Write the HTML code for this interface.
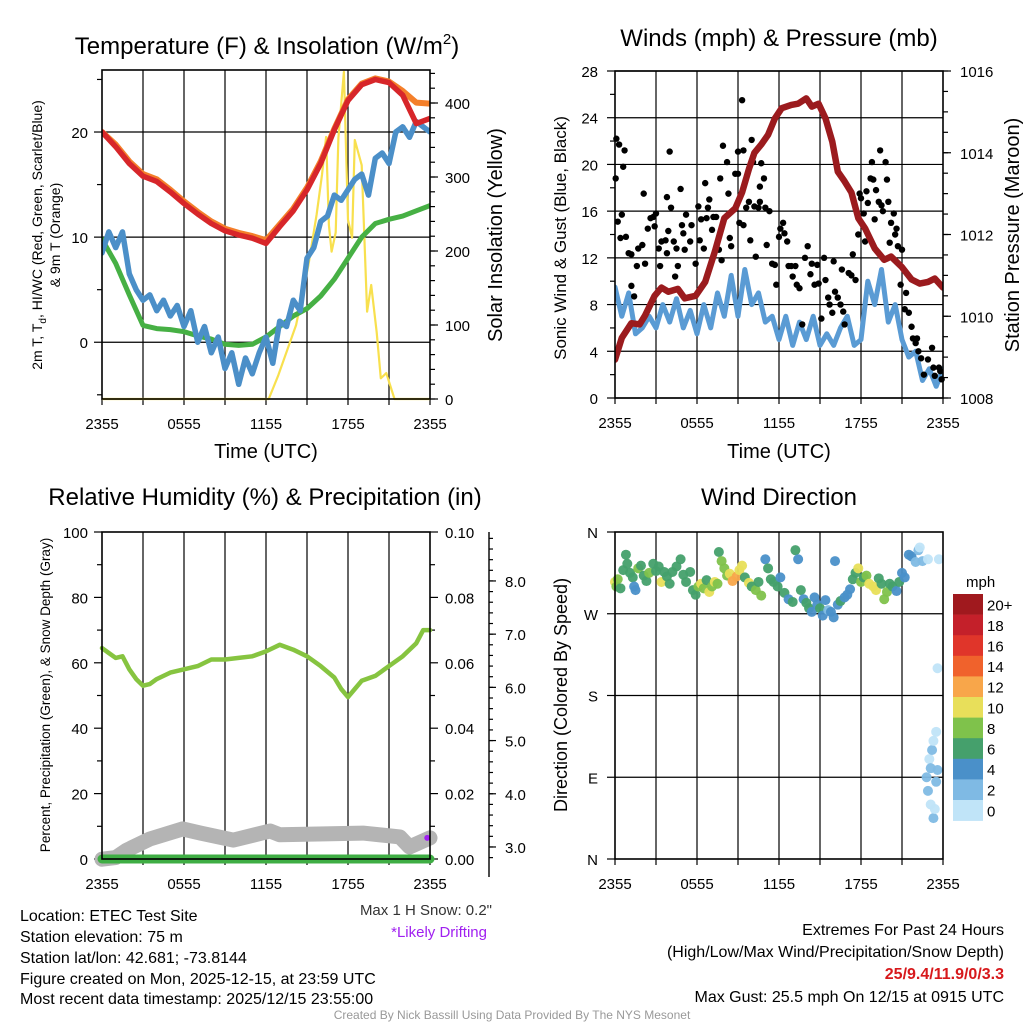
<!DOCTYPE html>
<html><head><meta charset="utf-8"><title>Weather Station Chart</title>
<style>
html,body{margin:0;padding:0;background:#fff;}
svg{display:block;font-family:"Liberation Sans",Arial,sans-serif;}
</style></head>
<body>
<svg id="chart" xmlns="http://www.w3.org/2000/svg" width="1024" height="1024" viewBox="0 0 1024 1024">
<rect x="0" y="0" width="1024" height="1024" fill="#fff"/>
<!-- Titles -->
<text x="267" y="54" font-size="24" text-anchor="middle">Temperature (F) &amp; Insolation (W/m<tspan font-size="15" dy="-10">2</tspan><tspan dy="10">)</tspan></text>
<text x="779" y="46" font-size="24" text-anchor="middle">Winds (mph) &amp; Pressure (mb)</text>
<text x="265" y="505" font-size="24" text-anchor="middle">Relative Humidity (%) &amp; Precipitation (in)</text>
<text x="779" y="505" font-size="24" text-anchor="middle">Wind Direction</text>
<!-- axis titles -->
<text x="266" y="458" font-size="20" text-anchor="middle">Time (UTC)</text>
<text x="779" y="458" font-size="20" text-anchor="middle">Time (UTC)</text>
<text transform="translate(42,235) rotate(-90)" font-size="14" text-anchor="middle">2m T, T<tspan font-size="10" dy="4">d</tspan><tspan dy="-4">, HI/WC (Red, Green, Scarlet/Blue)</tspan></text>
<text transform="translate(60,235) rotate(-90)" font-size="14" text-anchor="middle">&amp; 9m T (Orange)</text>
<text transform="translate(502,235) rotate(-90)" font-size="20" text-anchor="middle">Solar Insolation (Yellow)</text>
<text transform="translate(566,238) rotate(-90)" font-size="17" text-anchor="middle">Sonic Wind &amp; Gust (Blue, Black)</text>
<text transform="translate(1019,235) rotate(-90)" font-size="20" text-anchor="middle">Station Pressure (Maroon)</text>
<text transform="translate(50,695) rotate(-90)" font-size="13.5" text-anchor="middle">Percent, Precipitation (Green), &amp; Snow Depth (Gray)</text>
<text transform="translate(567,695) rotate(-90)" font-size="18" text-anchor="middle">Direction (Colored By Speed)</text>
<!-- notes -->
<text x="492" y="915" font-size="15" fill="#333" text-anchor="end">Max 1 H Snow: 0.2"</text>
<text x="487" y="937" font-size="15" fill="#a020f0" text-anchor="end">*Likely Drifting</text>
<text x="966" y="587" font-size="15">mph</text>
<g font-size="16">
<text x="20" y="921">Location: ETEC Test Site</text>
<text x="20" y="942">Station elevation: 75 m</text>
<text x="20" y="963">Station lat/lon: 42.681; -73.8144</text>
<text x="20" y="984">Figure created on Mon, 2025-12-15, at 23:59 UTC</text>
<text x="20" y="1004">Most recent data timestamp: 2025/12/15 23:55:00</text>
</g>
<g font-size="16" text-anchor="end">
<text x="1004" y="935">Extremes For Past 24 Hours</text>
<text x="1004" y="957">(High/Low/Max Wind/Precipitation/Snow Depth)</text>
<text x="1004" y="979" fill="#d7191c" font-weight="bold">25/9.4/11.9/0/3.3</text>
<text x="1004" y="1002">Max Gust: 25.5 mph On 12/15 at 0915 UTC</text>
</g>
<text x="512" y="1019" font-size="12" fill="#999" text-anchor="middle">Created By Nick Bassill Using Data Provided By The NYS Mesonet</text>
</svg>
<script>
// ---------- data ----------
const timeTickLabels = ["2355","0555","1155","1755","2355"];
const tempHours = [0,1,2,3,4,5,6,7,8,9,10,11,12,13,14,15,16,17,18,19,20,21,22,23,24];
const temp2m = [20,18.6,17,15.8,15.3,14.3,13.2,12.2,11.3,10.6,10.2,9.9,9.4,11,12.5,14.5,17,20.2,23,24.5,25,24.7,23.5,20.8,21.3];
const temp9m = [20,18.8,17.2,16,15.5,14.5,13.4,12.4,11.5,10.8,10.4,10.1,9.7,11.2,12.7,14.7,17.2,20.3,23.1,24.6,25.1,24.8,23.9,22.8,22.7];
const dewpoint = [9.8,7.5,4.5,1.6,1.3,1.2,1.0,0.6,0.3,-0.2,-0.3,-0.2,0.5,1.5,2.5,3.2,4.4,6,8,10,11.3,11.7,12,12.5,13];
const wcHours = [0,0.5,1,1.5,2,2.5,3,3.5,4,4.5,5,5.5,6,6.5,7,7.5,8,8.5,9,9.5,10,10.5,11,11.5,12,12.5,13,13.5,14,14.5,15,15.5,16,16.5,17,17.5,18,18.5,19,19.5,20,20.5,21,21.5,22,22.5,23,23.5,24];
const windChill = [8.5,10.5,9,10.5,6.5,5,4,4.5,3,4,2.5,3.5,1.5,3,0,1.5,-1,0.5,-2.5,-1,-4,-1.5,-3,-1,0.5,-2,2,1.5,4,3,8,9,11.5,12,14,13.5,14.5,15.5,16,14,17.5,18,17,20,20.5,19.5,21,20.5,20];
const insolHours = [0,12.2,12.9,14.2,15.1,15.7,16.1,16.4,16.6,16.8,17.1,17.3,17.7,18,18.3,18.5,19,19.4,19.7,20.1,20.4,20.8,21.4,24];
const insolation = [0,0,32,100,181,249,303,354,235,199,225,353,442,242,218,350,316,118,154,90,28,35,0,0];
const tempTicks = [0,10,20];
const insolTicks = [0,100,200,300,400];

const windHours = wcHours;
const windSpeed = [9.5,7,9,5.5,6,7,6,8,6.5,8.5,6,7.5,5.5,8,6,9,7,10.5,7,11,8,9,6.5,7,5,7,4.5,6.5,5,7,4.5,5.5,4.5,6,7,4.5,5,10,8,11,6.5,8,5,3.5,4,1.5,2.5,1,2.5];
const gustHours = [0.05,0.1,0.3,0.7,0.6,0.2,0.5,0.4,0.8,1.0,1.2,1.2,1.4,1.6,1.7,2.0,2.1,2.2,2.4,2.6,2.8,2.9,3.0,3.2,3.3,3.4,3.7,3.8,3.9,4.0,4.1,3.8,4.3,4.4,4.5,4.6,4.8,4.9,5.0,5.1,5.2,5.5,5.6,5.9,6.1,6.2,6.3,6.5,6.6,6.7,6.8,6.9,7.1,7.2,7.4,7.6,7.7,7.8,7.9,8.2,8.3,8.4,8.5,8.8,9.0,9.0,9.3,9.4,9.1,9.4,9.6,9.8,9.9,10.0,10.1,10.2,10.3,10.5,10.6,10.7,10.6,10.9,11.0,11.1,11.3,11.5,11.7,11.8,12.0,12.1,12.3,12.4,12.6,12.7,12.9,13.0,13.2,13.3,13.5,13.7,13.9,14.1,14.3,14.4,14.6,14.8,14.9,15.1,15.3,15.4,15.6,15.7,15.9,16.0,16.1,16.3,16.5,16.6,16.7,16.8,17.1,17.3,17.4,17.6,17.8,17.9,18.0,18.2,18.3,18.4,18.5,18.7,18.8,18.9,19.0,19.1,19.3,19.4,19.5,19.6,19.8,19.9,20.0,20.1,20.2,20.4,20.5,20.6,20.7,20.9,21.0,21.2,21.3,21.5,21.7,21.8,22.0,22.1,22.2,22.4,22.9,23.2,23.3,23.4,23.7,23.8,23.9,22.6];
const gustSpeed = [18.8,22.2,21.7,21.2,19.8,15.1,15.7,13.7,13.8,12.4,12.3,9.6,8.7,11.3,12.8,13.1,17.5,11.5,14.5,15.4,15.5,14.7,15.8,12.8,11.3,13.4,13.5,12.4,14.3,21.1,16.3,17.2,13.4,10.4,12.8,11.3,17.9,14.8,14.1,12.7,15.7,13.4,14.8,11.5,16.4,13.5,15.3,12.8,18.4,15.4,16.3,17.0,14.4,15.5,15.5,12.7,18.8,11.8,21.6,20.2,17.5,13.7,13.0,19.2,21.1,19.2,25.5,21.2,15.0,14.8,16.3,16.8,13.5,22.1,20.2,16.4,12.1,16.3,16.8,20.1,18.1,18.8,16.3,13.1,16.0,11.5,11.4,9.7,13.8,14.5,15.0,14.1,13.4,11.3,11.3,10.4,11.3,9.7,9.4,6.3,12.0,13.0,10.6,11.5,9.7,11.4,9.8,6.8,12.0,10.1,8.6,8.0,7.3,11.7,9.1,8.6,8.0,11.0,7.4,6.3,10.7,10.5,12.3,10.1,14.0,17.5,17.1,15.8,13.4,17.7,16.7,18.8,20.2,18.7,15.3,17.8,16.8,21.2,16.5,16.0,20.2,18.7,16.8,13.3,15.0,15.8,14.0,14.5,13.0,9.7,12.7,7.6,9.0,7.3,6.1,5.1,4.7,5.1,4.0,3.4,3.3,4.3,2.6,1.9,2.6,2.3,1.6,2.0];
const presHours = [0,0.5,1.2,1.8,2.2,2.9,3.4,3.9,4.6,5.1,5.9,6.6,7.3,8.0,8.8,9.3,9.8,10.2,10.7,11.2,11.7,12.2,12.9,13.4,14.0,14.4,14.9,15.4,15.9,16.3,16.8,17.3,17.8,18.3,19.0,19.7,20.2,21.0,21.7,22.3,22.9,23.4,24];
const pressure = [1008.94,1009.47,1009.83,1009.8,1010.02,1010.5,1010.7,1010.6,1010.67,1010.44,1010.5,1010.84,1011.58,1012.4,1012.64,1013.03,1013.6,1014.0,1014.2,1014.44,1014.84,1015.09,1015.17,1015.2,1015.33,1015.13,1015.2,1014.84,1014.27,1013.54,1013.3,1013.03,1012.4,1012.15,1011.66,1011.38,1011.46,1011.2,1010.9,1010.8,1010.84,1010.92,1010.7];
const windTicks = [0,4,8,12,16,20,24,28];
const presTicks = [1008,1010,1012,1014,1016];

const rhHours = [0,0.5,1,1.5,2,2.5,3,3.5,4,5,6,7,8,9,10,11,12,13,14,15,16,17,17.5,18,18.5,19,20,21,22,23,23.5,24];
const rhValues = [64.5,63,61.5,62,58,55,53,53.5,55,57,58,59,61,61,61.5,62,63.5,65.5,64,62,59,55.5,52,49.5,52,54.5,56,59,62,66,70,70];
const precipHours = [0,24];
const precipValues = [0,0];
const snowHours = [0,1.0,1.8,3.5,5.9,7.2,9.6,12.3,13,19.1,21.8,22.5,24];
const snowDepth = [2.77,2.8,2.94,3.15,3.34,3.26,3.13,3.30,3.23,3.26,3.19,3.0,3.17];
const rhTicks = [0,20,40,60,80,100];
const precipTicks = ["0.00","0.02","0.04","0.06","0.08","0.10"];
const snowTicks = ["3.0","4.0","5.0","6.0","7.0","8.0"];

const dirHours = [0.0,0.1,0.2,0.4,0.6,0.8,0.9,1.1,1.3,1.4,1.5,1.7,1.9,2.1,2.3,2.5,2.8,3.0,3.2,3.4,3.6,3.8,4.0,4.2,4.5,4.8,5.0,5.2,5.5,5.7,5.9,6.1,6.3,6.5,6.7,6.9,7.1,7.3,7.5,7.6,7.8,8.0,8.2,8.4,8.6,8.9,9.1,9.3,9.5,9.8,10.0,10.3,10.5,10.7,11.0,11.2,11.4,11.6,11.9,12.1,12.4,12.7,13.0,13.2,13.4,13.6,13.8,14.0,14.2,14.4,14.6,14.8,15.0,15.2,15.4,15.6,15.8,16.0,16.1,16.3,16.5,16.8,17.0,17.2,17.4,17.6,17.8,18.0,18.2,18.4,18.6,18.9,19.1,19.3,19.5,19.7,19.9,20.1,20.3,20.6,20.8,21.0,21.2,21.5,21.7,22.0,22.2,22.5,22.9,22.8,22.9,23.0,23.1,23.1,23.2,23.3,23.3,23.4,23.5,23.6,23.6,23.5,23.7,22.3];
const dirDegrees = [305,300,308,298,318,335,325,315,310,300,296,320,323,312,306,315,325,317,322,305,316,311,303,316,322,330,313,305,316,296,291,300,303,298,307,294,300,305,303,338,328,320,312,314,306,311,318,323,310,304,300,296,305,290,330,320,308,305,300,310,293,286,283,340,330,296,286,282,276,272,288,280,276,268,285,274,272,266,328,280,284,288,291,297,308,315,320,305,310,312,303,300,296,309,303,286,294,303,300,295,305,315,310,335,333,327,340,328,330,90,75,110,100,60,120,130,45,55,85,98,210,140,330,343];
const dirSpeed = [10,8,9,6,7,6,7,6,7,5,4,8,7,7,6,8,6,6,7,10,7,6,6,6,6,6,6,6,6,7,7,8,10,8,6,10,8,10,8,7,8,8,8,10,12,13,10,10,6,10,7,8,6,8,4,6,6,7,6,4,6,4,6,6,4,6,4,6,7,4,4,4,6,4,4,3,5,4,4,4,6,4,5,4,6,7,10,8,7,8,10,10,10,7,6,8,8,6,7,5,6,4,5,4,4,3,2,3,1,2,2,1,3,1,2,1,2,1,3,2,1,1,0.5,1];
const colorLabels = ["0","2","4","6","8","10","12","14","16","18","20+"];
const colorFills = ["#c0e4f8","#7fbae4","#4a90c9","#45a06c","#7fc24b","#e8df5a","#f8a64a","#f0622c","#e0352a","#c4202a","#a0191e"];
const dirTickLabels = ["N","E","S","W","N"];
const dirTickValues = [0,90,180,270,360];

// ---------- helpers ----------
const NS = 'http://www.w3.org/2000/svg';
const svg = document.getElementById('chart');
function mk(tag, attrs, name, parent) {
  const el = document.createElementNS(NS, tag);
  for (const k in attrs) el.setAttribute(k, attrs[k]);
  
  
  (parent || svg).appendChild(el);
  return el;
}
function txt(x, y, s, size, anchor, name, fill) {
  const t = mk('text', {x: x, y: y, 'font-size': size, 'text-anchor': anchor, fill: fill || '#000'}, name);
  t.textContent = s;
  return t;
}
function scale(d0, d1, r0, r1) { return v => r0 + (v - d0) / (d1 - d0) * (r1 - r0); }
function pathD(xa, ya, fx, fy) {
  let d = '';
  const n = Math.min(xa.length, ya.length);
  for (let i = 0; i < n; i++) {
    if (ya[i] === null) continue;
    d += (d ? 'L' : 'M') + fx(xa[i]).toFixed(1) + ',' + fy(ya[i]).toFixed(1);
  }
  return d;
}
function series(xa, ya, fx, fy, color, w, name, clip) {
  const p = mk('path', {d: pathD(xa, ya, fx, fy), fill: 'none', stroke: color, 'stroke-width': w, 'stroke-linejoin': 'round', 'stroke-linecap': 'round'}, name);
  if (clip) p.setAttribute('clip-path', 'url(#' + clip + ')');
  return p;
}
const defs = mk('defs', {}, 'clip-defs');
function clipFor(id, P) {
  const c = mk('clipPath', {id: id}, id, defs);
  mk('rect', {x: P.x0, y: P.y0 - 2, width: P.x1 - P.x0, height: P.y1 - P.y0 + 4}, id + '-rect', c);
}
function timeAxis(P, fx, name) {
  for (let h = 3; h < 24; h += 3) {
    mk('line', {x1: fx(h), x2: fx(h), y1: P.y0, y2: P.y1, stroke: '#000', 'stroke-width': 1.2}, name + '-vgrid');
  }
  for (let h = 0; h <= 24; h += 3) {
    mk('line', {x1: fx(h), x2: fx(h), y1: P.y1, y2: P.y1 + 6, stroke: '#000', 'stroke-width': 1.2}, name + '-xtick');
  }
  timeTickLabels.forEach((s, i) => txt(fx(i * 6), P.y1 + 30, s, 15, 'middle', name + '-xtick-label'));
}
function frame(P, name) {
  mk('rect', {x: P.x0, y: P.y0, width: P.x1 - P.x0, height: P.y1 - P.y0, fill: 'none', stroke: '#000', 'stroke-width': 1.6}, name + '-frame');
}
function ticksL(P, fy, vals, len, name) { vals.forEach(v => mk('line', {x1: P.x0 - len, x2: P.x0, y1: fy(v), y2: fy(v), stroke: '#000', 'stroke-width': 1.2}, name)); }
function ticksR(x, fy, vals, len, name) { vals.forEach(v => mk('line', {x1: x, x2: x + len, y1: fy(v), y2: fy(v), stroke: '#000', 'stroke-width': 1.2}, name)); }
function range(a, b, s) { const r = []; for (let v = a; v <= b + 1e-9; v += s) r.push(+v.toFixed(4)); return r; }

// ---------- Panel 1: temperature ----------
const P1 = {x0: 102, x1: 430, y0: 70, y1: 399};
clipFor('clip1', P1);
const x1s = scale(0, 24, P1.x0, P1.x1);
const yT = scale(-5.4, 25.9, P1.y1, P1.y0);
const yI = scale(0, 444.6, P1.y1, P1.y0);
timeAxis(P1, x1s, 'temp');
tempTicks.forEach(v => mk('line', {x1: P1.x0, x2: P1.x1, y1: yT(v), y2: yT(v), stroke: '#000', 'stroke-width': 1.2}, 'temp-hgrid'));
ticksL(P1, yT, tempTicks, 8, 'temp-ytick-major');
ticksL(P1, yT, [-5, 5, 15, 25], 5, 'temp-ytick-minor');
tempTicks.forEach(v => txt(P1.x0 - 14, yT(v) + 6, String(v), 15, 'end', 'temp-ytick-label'));
ticksR(P1.x1, yI, insolTicks, 8, 'insol-ytick-major');
ticksR(P1.x1, yI, range(0, 440, 20), 5, 'insol-ytick-minor');
insolTicks.forEach(v => txt(P1.x1 + 15, yI(v) + 6, String(v), 15, 'start', 'insol-ytick-label'));
series(insolHours, insolation, x1s, yI, '#f8e04e', 2.2, 'insolation-line', 'clip1');
series(tempHours, dewpoint, x1s, yT, '#46b044', 5, 'dewpoint-line', 'clip1');
series(wcHours, windChill, x1s, yT, '#4b8fc8', 5.5, 'windchill-line', 'clip1');
series(tempHours, temp9m, x1s, yT, '#f47f2a', 6, 'temp-9m-line', 'clip1');
series(tempHours, temp2m, x1s, yT, '#d7262a', 5.5, 'temp-2m-line', 'clip1');
frame(P1, 'temp');

// ---------- Panel 2: winds ----------
const P2 = {x0: 615, x1: 943, y0: 71, y1: 398};
clipFor('clip2', P2);
const x2s = scale(0, 24, P2.x0, P2.x1);
const yW = scale(0, 28, P2.y1, P2.y0);
const yP = scale(1008, 1016, P2.y1, P2.y0);
timeAxis(P2, x2s, 'winds');
windTicks.forEach(v => mk('line', {x1: P2.x0, x2: P2.x1, y1: yW(v), y2: yW(v), stroke: '#000', 'stroke-width': 1.2}, 'winds-hgrid'));
ticksL(P2, yW, windTicks, 8, 'wind-ytick-major');
ticksL(P2, yW, range(2, 26, 4), 5, 'wind-ytick-minor');
windTicks.forEach(v => txt(P2.x0 - 17, yW(v) + 6, String(v), 15, 'end', 'wind-ytick-label'));
ticksR(P2.x1, yP, presTicks, 8, 'pres-ytick-major');
ticksR(P2.x1, yP, range(1008, 1016, 0.5), 5, 'pres-ytick-minor');
presTicks.forEach(v => txt(P2.x1 + 17, yP(v) + 6, String(v), 15, 'start', 'pres-ytick-label'));
series(windHours, windSpeed, x2s, yW, '#5a9bd4', 5, 'wind-speed-line', 'clip2');
const ng = Math.min(gustHours.length, gustSpeed.length);
for (let i = 0; i < ng; i++) {
  mk('circle', {cx: x2s(gustHours[i]), cy: yW(gustSpeed[i]), r: 3.2, fill: '#000'}, 'gust-point');
}
series(presHours, pressure, x2s, yP, '#9b1b1e', 6.5, 'pressure-line', 'clip2');
frame(P2, 'winds');

// ---------- Panel 3: humidity ----------
const P3 = {x0: 102, x1: 430, y0: 532, y1: 859};
const x3s = scale(0, 24, P3.x0, P3.x1);
const yR = scale(0, 100, P3.y1, P3.y0);
const yPr = scale(0, 0.1, P3.y1, P3.y0);
const yS = scale(2.774, 8.92, P3.y1, P3.y0);
timeAxis(P3, x3s, 'humidity');
ticksL(P3, yR, rhTicks, 8, 'rh-ytick-major');
ticksL(P3, yR, range(10, 90, 20), 5, 'rh-ytick-minor');
rhTicks.forEach(v => txt(P3.x0 - 14, yR(v) + 6, String(v), 15, 'end', 'rh-ytick-label'));
precipTicks.forEach(s => {
  const v = parseFloat(s);
  mk('line', {x1: P3.x1, x2: P3.x1 + 8, y1: yPr(v), y2: yPr(v), stroke: '#000', 'stroke-width': 1.2}, 'precip-ytick');
  txt(P3.x1 + 15, yPr(v) + 6, s, 15, 'start', 'precip-ytick-label');
});
ticksR(P3.x1, yPr, range(0.01, 0.09, 0.02), 5, 'precip-ytick-minor');
mk('line', {x1: 489, x2: 489, y1: P3.y0, y2: P3.y1 + 18, stroke: '#000', 'stroke-width': 1.4}, 'snow-axis-line');
snowTicks.forEach(s => {
  const v = parseFloat(s);
  mk('line', {x1: 489, x2: 496, y1: yS(v), y2: yS(v), stroke: '#000', 'stroke-width': 1.2}, 'snow-ytick');
  txt(505, yS(v) + 6, s, 15, 'start', 'snow-ytick-label');
});
ticksR(489, yS, range(2.8, 8.8, 0.2), 4, 'snow-ytick-minor');
series(snowHours, snowDepth, x3s, yS, '#b4b4b4', 15, 'snow-depth-line');
series(precipHours, precipValues, x3s, yPr, '#3fae44', 9, 'precip-line');
series(rhHours, rhValues, x3s, yR, '#86c440', 4.5, 'rh-line');
mk('circle', {cx: x3s(23.8), cy: yS(3.17), r: 3, fill: '#a020f0'}, 'drifting-marker');
frame(P3, 'humidity');

// ---------- Panel 4: wind direction ----------
const P4 = {x0: 615, x1: 943, y0: 532, y1: 859};
const x4s = scale(0, 24, P4.x0, P4.x1);
const yD = scale(0, 360, P4.y1, P4.y0);
timeAxis(P4, x4s, 'direction');
[90, 180, 270].forEach(v => mk('line', {x1: P4.x0, x2: P4.x1, y1: yD(v), y2: yD(v), stroke: '#000', 'stroke-width': 1.2}, 'direction-hgrid'));
ticksL(P4, yD, dirTickValues, 8, 'direction-ytick');
dirTickValues.forEach((v, i) => txt(P4.x0 - 17, yD(v) + 6, dirTickLabels[i], 15, 'end', 'direction-ytick-label'));
const nd = Math.min(dirHours.length, dirDegrees.length, dirSpeed.length);
for (let i = 0; i < nd; i++) {
  const ci = Math.min(10, Math.floor(dirSpeed[i] / 2));
  mk('circle', {cx: x4s(dirHours[i]), cy: yD(dirDegrees[i]), r: 5, fill: colorFills[ci], 'fill-opacity': 0.95}, 'direction-point');
}
frame(P4, 'direction');
// colorbar
const cbTop = 594, cbH = 20.6;
for (let i = 0; i < colorLabels.length; i++) {
  const idx = colorLabels.length - 1 - i;
  mk('rect', {x: 953, y: cbTop + i * cbH, width: 30, height: cbH + 0.3, fill: colorFills[idx]}, 'colorbar-box');
  txt(967 + 20, cbTop + i * cbH + cbH / 2 + 6, colorLabels[idx], 15, 'start', 'colorbar-label');
}
</script>
</body></html>
